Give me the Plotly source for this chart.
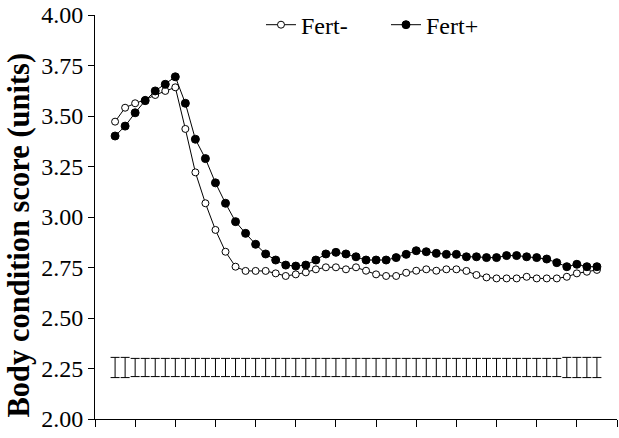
import plotly.graph_objects as go

# Sampling points (x in axis units; ticks every 4 units)
x_vals = list(range(2, 51))

fert_minus = [3.472, 3.541, 3.563, 3.580, 3.604, 3.624, 3.642, 3.436, 3.221, 3.068,
              2.936, 2.828, 2.754, 2.733, 2.733, 2.733, 2.721, 2.708, 2.716, 2.726,
              2.741, 2.751, 2.751, 2.741, 2.751, 2.734, 2.716, 2.708, 2.708, 2.724,
              2.734, 2.741, 2.734, 2.741, 2.741, 2.733, 2.713, 2.701, 2.696, 2.696,
              2.696, 2.704, 2.696, 2.696, 2.696, 2.704, 2.721, 2.729, 2.738]

fert_plus = [3.401, 3.450, 3.516, 3.576, 3.624, 3.657, 3.694, 3.563, 3.385, 3.289,
             3.169, 3.068, 2.977, 2.919, 2.865, 2.817, 2.787, 2.762, 2.757, 2.762,
             2.787, 2.817, 2.825, 2.817, 2.803, 2.787, 2.787, 2.787, 2.799, 2.815,
             2.833, 2.828, 2.820, 2.815, 2.815, 2.803, 2.803, 2.799, 2.799, 2.809,
             2.809, 2.803, 2.799, 2.792, 2.774, 2.754, 2.766, 2.754, 2.754]

# Pooled SE bars drawn at a constant baseline level
se_level = [2.255] * 49
se_values = [0.050, 0.050] + [0.045] * 43 + [0.050] * 4

y_ticks = [2.00, 2.25, 2.50, 2.75, 3.00, 3.25, 3.50, 3.75, 4.00]
y_tick_labels = ["2.00", "2.25", "2.50", "2.75", "3.00", "3.25", "3.50", "3.75", "4.00"]
x_ticks = list(range(0, 53, 4))

FONT = "Liberation Serif, Times New Roman, serif"

fig = go.Figure()

fig.add_trace(go.Scatter(
    x=x_vals, y=se_level, mode="markers", showlegend=False,
    marker=dict(size=1, color="rgba(0,0,0,0)"),
    error_y=dict(type="data", array=se_values, visible=True,
                 color="black", thickness=1, width=4.5),
    hoverinfo="skip",
))

fig.add_trace(go.Scatter(
    x=x_vals, y=fert_minus, mode="lines+markers", name="Fert-",
    line=dict(color="black", width=1),
    marker=dict(symbol="circle", size=7, color="white",
                line=dict(color="black", width=1)),
))

fig.add_trace(go.Scatter(
    x=x_vals, y=fert_plus, mode="lines+markers", name="Fert+",
    line=dict(color="black", width=1),
    marker=dict(symbol="circle", size=8, color="black",
                line=dict(color="black", width=1)),
))

fig.update_layout(
    width=619, height=438,
    margin=dict(l=95, r=2, t=15, b=19),
    paper_bgcolor="white", plot_bgcolor="white",
    font=dict(family=FONT, size=24, color="black"),
    showlegend=True,
    legend=dict(orientation="h", x=0.318, y=0.975, xanchor="left", yanchor="middle",
                bgcolor="rgba(0,0,0,0)", font=dict(size=24, family=FONT),
                entrywidth=80, entrywidthmode="pixels", itemwidth=30),
    xaxis=dict(range=[0, 52], tickvals=x_ticks, showticklabels=False,
               ticks="outside", ticklen=7, tickcolor="black", tickwidth=1,
               showline=True, linecolor="black", linewidth=1,
               showgrid=False, zeroline=False, fixedrange=True),
    yaxis=dict(range=[2.0, 4.0], tickvals=y_ticks, ticktext=y_tick_labels,
               ticks="outside", ticklen=6, tickcolor="black", tickwidth=1,
               showline=True, linecolor="black", linewidth=1,
               showgrid=False, zeroline=False, fixedrange=True,
               tickfont=dict(size=24, family=FONT)),
    annotations=[dict(
        text="<b>Body condition score (units)</b>", textangle=-90,
        xref="paper", yref="paper", x=-0.145, y=0.455,
        xanchor="center", yanchor="middle", showarrow=False,
        font=dict(size=30.5, family=FONT, color="black"),
    )],
)

fig.write_html(
    "out.html",
    config={"displayModeBar": False},
    post_script="document.body.style.margin='0';document.body.style.overflow='hidden';",
)
